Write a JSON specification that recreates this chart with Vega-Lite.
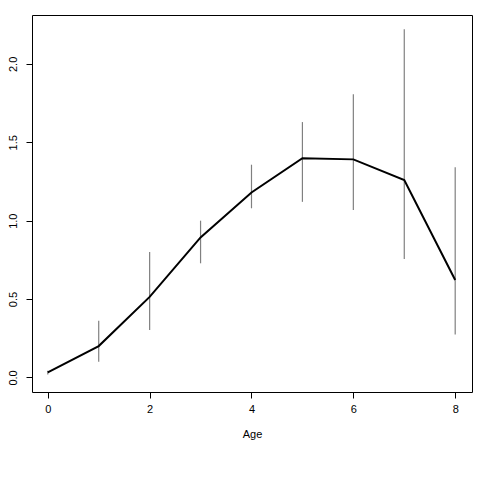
{
  "$schema": "https://vega.github.io/schema/vega-lite/v6.json",
  "width": 440,
  "height": 377,
  "autosize": {"type": "none"},
  "padding": {"left": 32, "top": 15, "right": 8, "bottom": 88},
  "background": "white",
  "config": {
    "view": {"stroke": "#000000", "strokeWidth": 1},
    "font": "Liberation Sans",
    "axis": {
      "grid": false,
      "domain": false,
      "tickColor": "#000000",
      "tickSize": 6,
      "labelColor": "#000000",
      "labelFontSize": 11,
      "labelFont": "Liberation Sans",
      "titleFont": "Liberation Sans",
      "titleFontSize": 11,
      "titleFontWeight": "normal",
      "titleColor": "#000000"
    }
  },
  "data": {
    "values": [
      {"Age": 0, "mean": 0.032, "lo": 0.019, "hi": 0.042},
      {"Age": 1, "mean": 0.200, "lo": 0.100, "hi": 0.361},
      {"Age": 2, "mean": 0.514, "lo": 0.302, "hi": 0.800},
      {"Age": 3, "mean": 0.893, "lo": 0.728, "hi": 1.000},
      {"Age": 4, "mean": 1.180, "lo": 1.079, "hi": 1.357},
      {"Age": 5, "mean": 1.398, "lo": 1.120, "hi": 1.629},
      {"Age": 6, "mean": 1.391, "lo": 1.068, "hi": 1.806},
      {"Age": 7, "mean": 1.259, "lo": 0.755, "hi": 2.221},
      {"Age": 8, "mean": 0.621, "lo": 0.274, "hi": 1.340}
    ]
  },
  "layer": [
    {
      "mark": {"type": "rule", "color": "#808080", "strokeWidth": 1.2},
      "encoding": {
        "x": {"field": "Age", "type": "quantitative",
          "scale": {"domain": [-0.31, 8.33], "nice": false, "zero": false},
          "axis": {"values": [0, 2, 4, 6, 8], "title": "Age", "labelPadding": 5, "titlePadding": 14, "labelFlush": false}},
        "y": {"field": "lo", "type": "quantitative",
          "scale": {"domain": [-0.093, 2.312], "nice": false, "zero": false},
          "axis": {"values": [0, 0.5, 1, 1.5, 2], "format": ".1f", "title": null, "labelAngle": -90, "labelAlign": "center", "labelBaseline": "bottom", "labelPadding": 8, "labelFlush": false}},
        "y2": {"field": "hi"}
      }
    },
    {
      "mark": {"type": "line", "color": "#000000", "strokeWidth": 2},
      "encoding": {
        "x": {"field": "Age", "type": "quantitative"},
        "y": {"field": "mean", "type": "quantitative"}
      }
    }
  ]
}
